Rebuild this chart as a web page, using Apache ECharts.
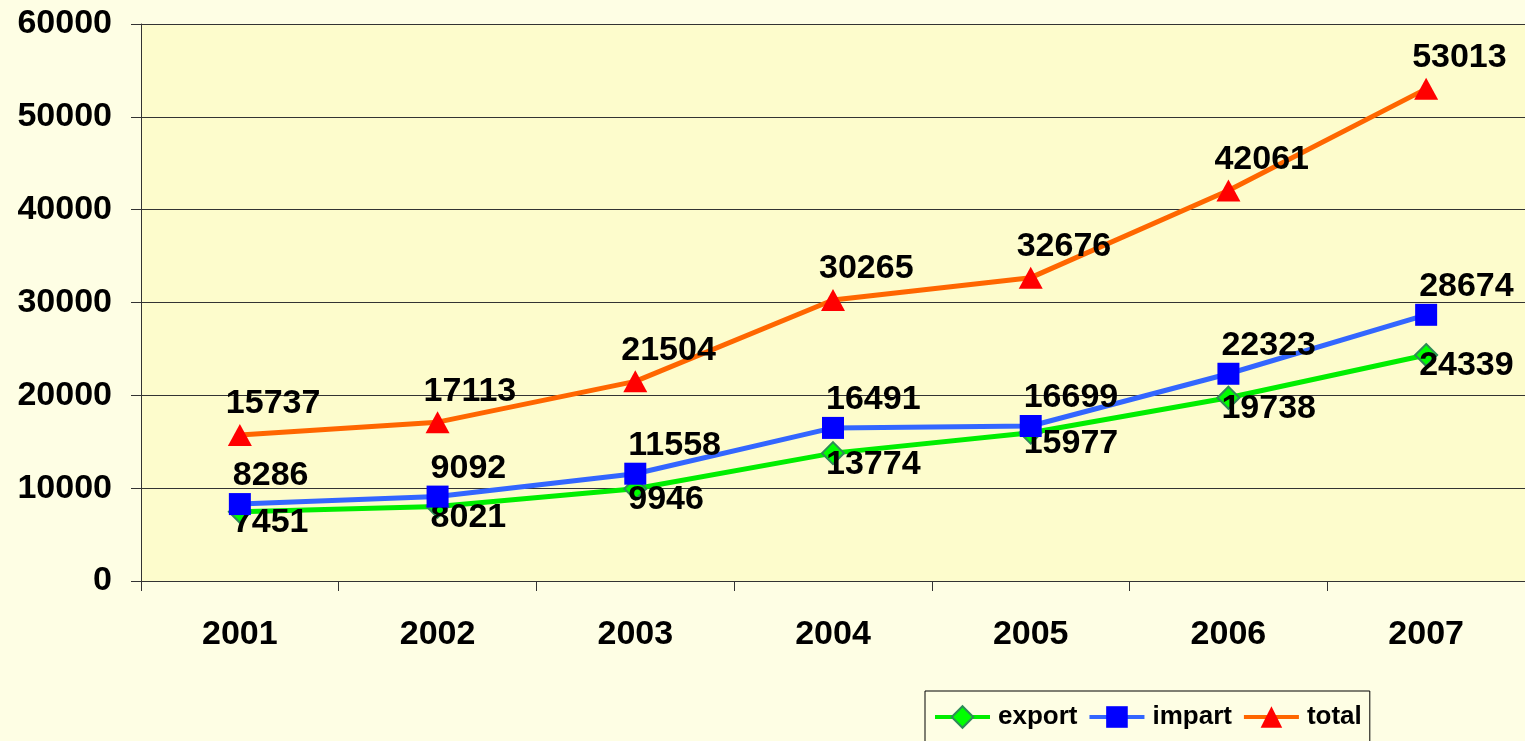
<!DOCTYPE html>
<html>
<head>
<meta charset="utf-8">
<script src="https://cdn.jsdelivr.net/npm/echarts@6/dist/echarts.min.js"></script>
<style>
	html, body { margin: 0; padding: 0; background: #fefee4; }
	#myChart { width: 1525px; height: 741px; }
</style>
</head>
<body>
<div id="myChart"></div>
<script>
	// 数据
	const years = ['2001', '2002', '2003', '2004', '2005', '2006', '2007'];
	const exportData = [7451, 8021, 9946, 13774, 15977, 19738, 24339];
	const impartData = [8286, 9092, 11558, 16491, 16699, 22323, 28674];
	const totalData = [15737, 17113, 21504, 30265, 32676, 42061, 53013];

	const font = 'Arial, "Liberation Sans", sans-serif';

	function valueLabel(dx, dy) {
		return {
			show: true,
			position: 'inside',
			align: 'left',
			verticalAlign: 'middle',
			offset: [dx, dy],
			color: '#000',
			fontFamily: font,
			fontWeight: 'bold',
			fontSize: 34
		};
	}

	let myChart = echarts.init(document.getElementById('myChart'));
	myChart.setOption({
		backgroundColor: '#fefee4',
		animation: false,
		grid: {
			left: 141,
			right: 0,
			top: 24,
			bottom: 160,
			show: true,
			backgroundColor: '#fdfccc',
			borderWidth: 0
		},
		legend: {
			left: 925,
			top: 691,
			padding: [13, 8, 20, 8],
			borderColor: '#000',
			borderWidth: 1,
			itemWidth: 55,
			itemHeight: 27,
			itemGap: 10,
			lineStyle: { width: 4 },
			textStyle: {
				color: '#000',
				fontFamily: font,
				fontWeight: 'bold',
				fontSize: 26,
				padding: [0, 0, 0, 3]
			},
			data: ['export', 'impart', 'total']
		},
		xAxis: {
			type: 'category',
			data: years,
			boundaryGap: true,
			axisLine: { lineStyle: { color: '#333', width: 1 } },
			axisTick: { show: true, length: 10, interval: 0, lineStyle: { color: '#333' } },
			axisLabel: {
				margin: 37,
				color: '#000',
				fontFamily: font,
				fontWeight: 'bold',
				fontSize: 34
			},
			splitLine: { show: false }
		},
		yAxis: {
			type: 'value',
			min: 0,
			max: 60000,
			interval: 10000,
			axisLine: { show: true, lineStyle: { color: '#333', width: 1 } },
			axisTick: { show: true, length: 10, lineStyle: { color: '#333' } },
			axisLabel: {
				margin: 29,
				color: '#000',
				fontFamily: font,
				fontWeight: 'bold',
				fontSize: 34,
				formatter: function (v) { return String(v); }
			},
			splitLine: { show: true, lineStyle: { color: '#333', width: 1 } }
		},
		series: [
			{
				name: 'export',
				type: 'line',
				data: exportData,
				symbol: 'diamond',
				symbolSize: 22,
				lineStyle: { color: '#00ee00', width: 5 },
				itemStyle: { color: '#00ff00', borderColor: '#2e8b57', borderWidth: 2 },
				label: valueLabel(-7, 11),
				z: 2
			},
			{
				name: 'impart',
				type: 'line',
				data: impartData,
				symbol: 'rect',
				symbolSize: 22,
				lineStyle: { color: '#3366ff', width: 5 },
				itemStyle: { color: '#0000ff' },
				label: valueLabel(-7, -28),
				z: 3
			},
			{
				name: 'total',
				type: 'line',
				data: totalData,
				symbol: 'triangle',
				symbolSize: [24, 22],
				lineStyle: { color: '#ff6600', width: 5 },
				itemStyle: { color: '#ff0000' },
				label: valueLabel(-14, -31),
				z: 4
			}
		]
	});
</script>
</body>
</html>
